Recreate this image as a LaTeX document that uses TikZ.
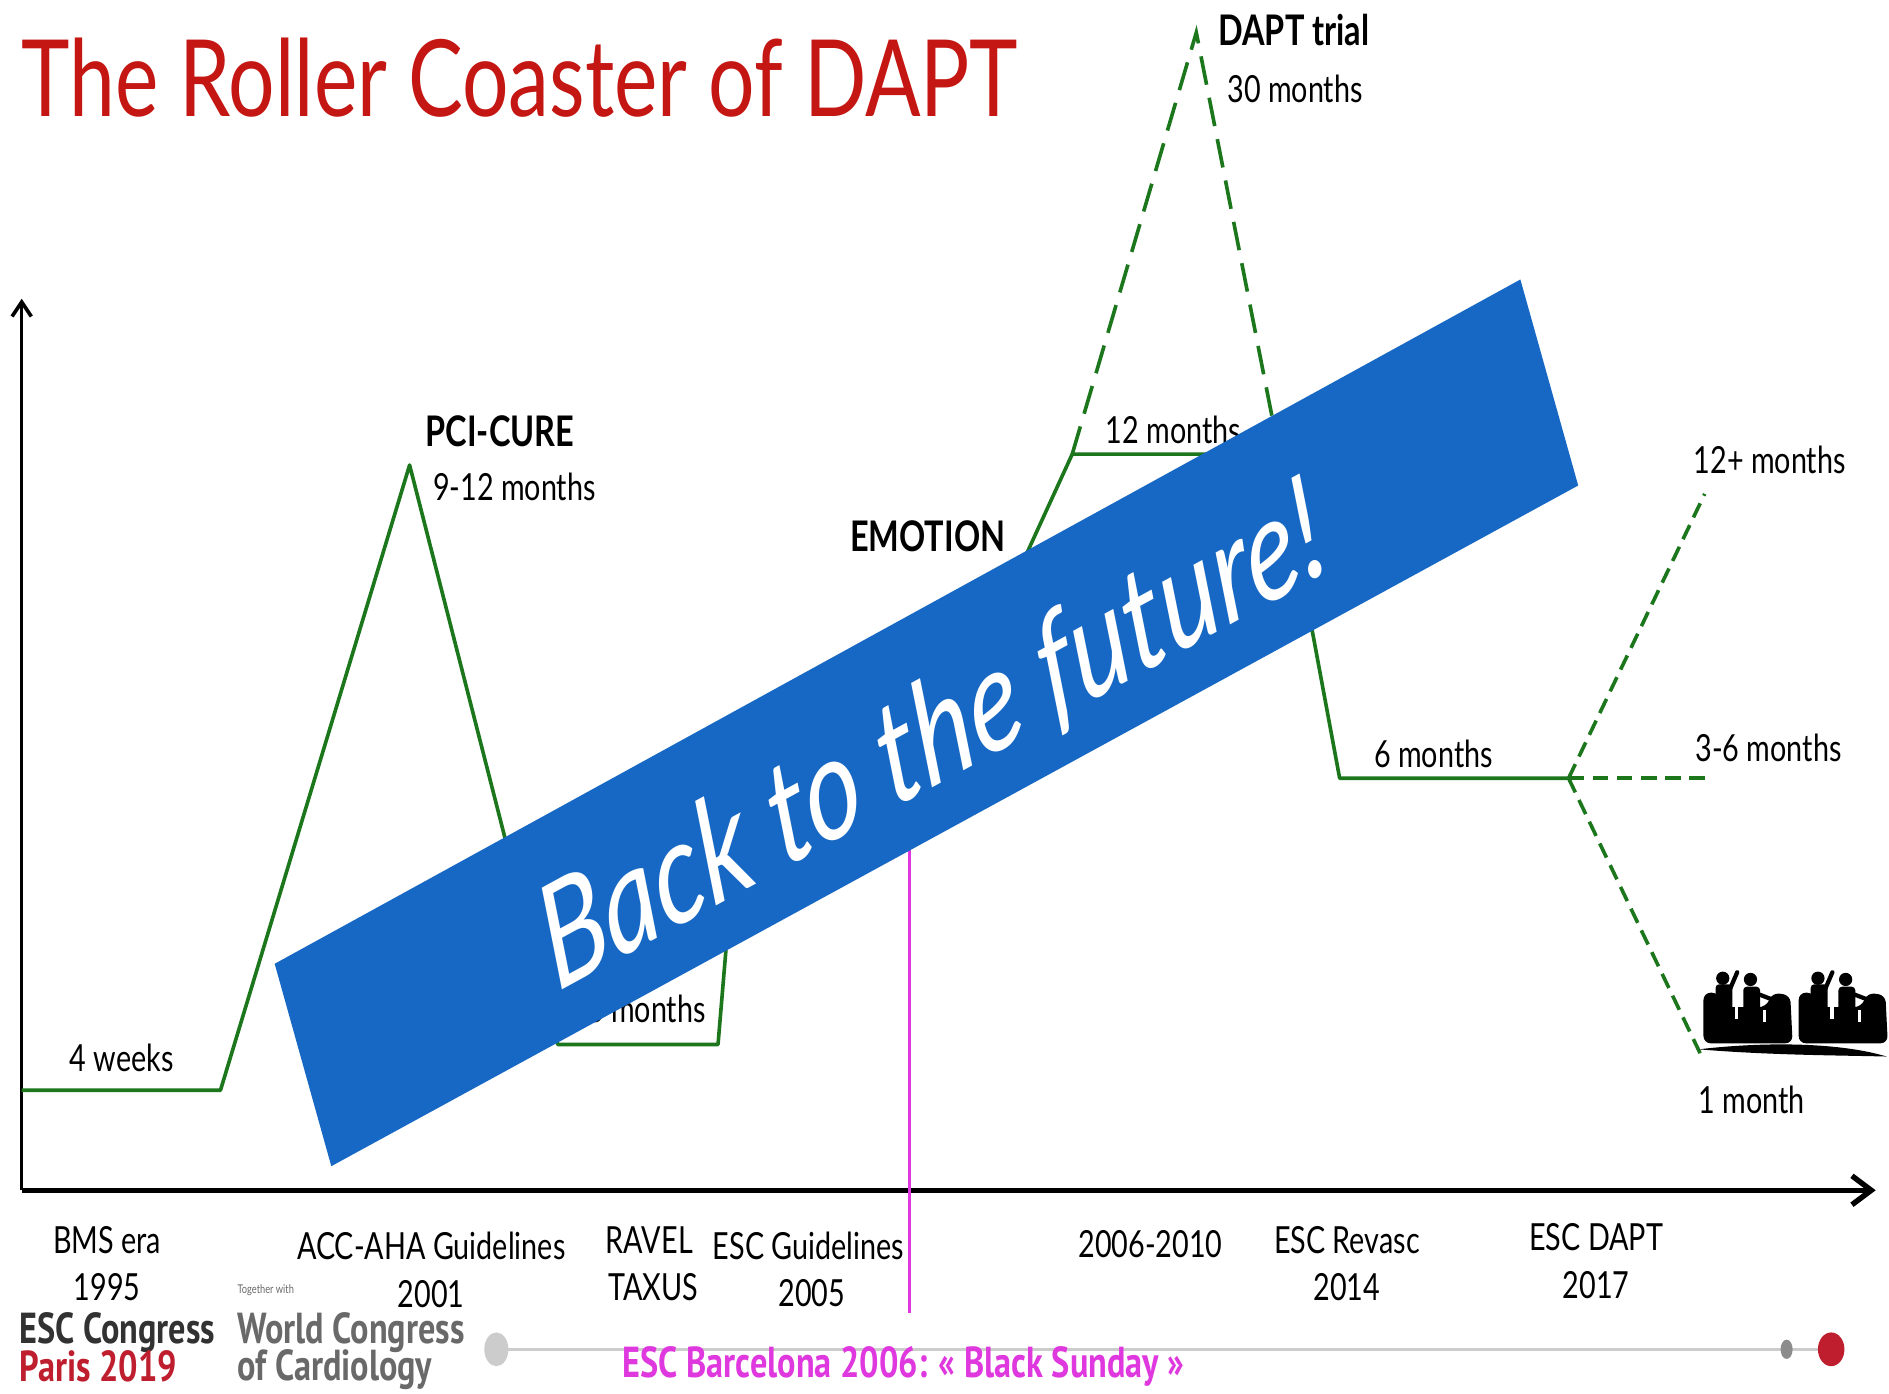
\documentclass[tikz,border=0pt]{standalone}
\usepackage{fontspec}
\setmainfont[FakeStretch=0.77]{Lato}
\newfontfamily\bannerfont{Lato}
\newfontfamily\congressfont[FakeStretch=0.79]{PT Sans}
\usetikzlibrary{arrows.meta}
\definecolor{coastergreen}{RGB}{28,118,28}
\definecolor{titlered}{RGB}{196,22,18}
\definecolor{bannerblue}{RGB}{22,104,196}
\definecolor{sundaypink}{RGB}{222,56,222}
\definecolor{parisred}{RGB}{190,30,45}
\definecolor{wcgray}{RGB}{105,105,105}
\definecolor{escdark}{RGB}{50,50,50}
\begin{document}
\begin{tikzpicture}[x=1pt,y=-1pt,
  track/.style={draw=coastergreen, line width=3pt, line join=round},
  trialdash/.style={draw=coastergreen, line width=3pt, dash pattern=on 24pt off 11pt},
  futuredash/.style={draw=coastergreen, line width=3pt, dash pattern=on 13pt off 7pt},
  lbl/.style={font=\fontsize{31}{34}\selectfont, text=black, inner sep=0pt},
  boldlbl/.style={font=\bfseries\fontsize{35}{37}\selectfont, text=black, inner sep=0pt},
  footlbl/.style={font=\congressfont\bfseries\fontsize{36}{39}\selectfont, inner sep=0pt, anchor=base west}
]
% canvas
\useasboundingbox (0,0) rectangle (1568,1156.3);
\fill[white] (0,0) rectangle (1568,1156.3);

% title
\node[anchor=base west, inner sep=0pt, text=titlered,
      font=\fontsize{88.5}{96}\selectfont] (title) at (18,97) {The Roller Coaster of DAPT};

% axes
\coordinate (origin) at (18,988);
\coordinate (ytip) at (18,248);
\coordinate (xtip) at (1557,988);
\draw[line width=3pt, -{Straight Barb[length=12pt,width=16pt,line width=3pt]}] (origin) -- (ytip);
\draw[line width=4.5pt, -{Straight Barb[length=16pt,width=24pt,line width=4.5pt]}] (origin) -- (xtip);

% duration track
\coordinate (g0) at (18,905);
\coordinate (g1) at (183,905);
\coordinate (g2) at (340,386);
\coordinate (g3) at (463,867);
\coordinate (g4) at (596,867);
\coordinate (g5) at (610,700);
\coordinate (g6) at (742,700);
\coordinate (g7) at (890,377);
\coordinate (g8) at (1062,377);
\coordinate (g9) at (1112,646);
\coordinate (g10) at (1302,646);
\coordinate (peak) at (993,27);
\coordinate (f12) at (1415,410);
\coordinate (f36) at (1420,646);
\coordinate (f1) at (1413,878);

\draw[track] (g0) -- (g1) -- (g2) -- (g3) -- (g4) -- (g5) -- (g6) -- (g7) -- (g8) -- (g9) -- (g10);
\draw[trialdash] (g7) -- (peak) -- (g8);
\draw[futuredash] (g10) -- (f12);
\draw[futuredash] (g10) -- (f36);
\draw[futuredash] (g10) -- (f1);

% duration labels
\node[lbl] (w4) at (101,878) {4 weeks};
\node[boldlbl] (pcicure) at (415,358) {PCI-CURE};
\node[lbl] (m912) at (427,404) {9-12 months};
\node[lbl, anchor=base east] (m36a) at (586,849) {3-6 months};
\node[boldlbl] (emotion) at (770,445) {EMOTION};
\node[lbl] (m12) at (974,357) {12 months};
\node[boldlbl] (dapt) at (1074,25) {DAPT trial};
\node[lbl] (m30) at (1075,74) {30 months};
\node[lbl] (m12p) at (1469,382) {12+ months};
\node[lbl] (m6) at (1190,626) {6 months};
\node[lbl] (m36b) at (1468,621) {3-6 months};
\node[lbl] (m1) at (1454,913) {1 month};

% Black Sunday marker
\coordinate (bs0) at (755,640);
\coordinate (bs1) at (755,1090);
\draw[sundaypink, line width=3pt] (bs0) -- (bs1);

% banner
\coordinate (bA) at (228,800);
\coordinate (bB) at (1262,232);
\coordinate (bC) at (1310,403);
\coordinate (bD) at (275,968);
\fill[bannerblue] (bA) -- (bB) -- (bC) -- (bD) -- cycle;
\begin{scope}[shift={(774,614)}]
  \node[text=white, inner sep=0pt, xscale=0.74, rotate=22,
        font=\bannerfont\itshape\fontsize{121}{130}\selectfont] (future) at (0,0) {Back to the future!};
\end{scope}

% timeline labels
\node[lbl] (bms) at (89,1029) {BMS era};
\node[lbl] (y1995) at (89,1068) {1995};
\node[lbl] (acc) at (358,1034) {ACC-AHA Guidelines};
\node[lbl] (y2001) at (358,1074) {2001};
\node[lbl] (ravel) at (539,1029) {RAVEL};
\node[lbl] (taxus) at (542,1068) {TAXUS};
\node[lbl] (escg) at (671,1034) {ESC Guidelines};
\node[lbl] (y2005) at (674,1073) {2005};
\node[lbl] (y0610) at (955,1033) {2006-2010};
\node[lbl] (revasc) at (1118,1029) {ESC Revasc};
\node[lbl] (y2014) at (1118,1068) {2014};
\node[lbl] (escdapt) at (1325,1027) {ESC DAPT};
\node[lbl] (y2017) at (1325,1067) {2017};

% roller coaster cars
\foreach \cx in {1414,1493}{
  \begin{scope}[shift={(\cx,866)}]
    \fill[black, rounded corners=6pt] (0,0) -- (0,-42) -- (13,-42) -- (14,-30) -- (52,-30)
          -- (57,-42) -- (72,-40) -- (74,0) -- cycle;
    \fill[black] (16,-54) circle (5.5);
    \fill[black] (39,-53) circle (5.5);
    \fill[black, rounded corners=3pt] (10,-24) rectangle (24,-49);
    \fill[black, rounded corners=3pt] (33,-24) rectangle (47,-47);
    \draw[black, line width=3.5pt, line cap=round] (22,-45) -- (28,-59);
    \draw[black, line width=3.5pt, line cap=round] (45,-41) -- (58,-36);
    \fill[white] (26,-20) rectangle (29,-32);
    \fill[white] (49,-18) rectangle (52,-28);
  \end{scope}
}
\coordinate (rail0) at (1410,871);
\coordinate (rail1) at (1566,877);
\fill[black] (rail0) .. controls (1470,864) and (1530,866) .. (rail1)
             .. controls (1530,876) and (1470,876) .. (rail0) -- cycle;

% congress footer
\coordinate (tl0) at (412,1120);
\coordinate (tl1) at (1483,1120);
\coordinate (tl2) at (1520,1120);
\draw[black!20, line width=2pt] (tl0) -- (tl2);
\fill[black!20] (tl0) ellipse [x radius=10, y radius=14];
\fill[black!45] (tl1) ellipse [x radius=5, y radius=8];
\fill[parisred] (tl2) ellipse [x radius=11, y radius=14];

\node[footlbl, text=escdark] (escc) at (16,1115) {ESC Congress};
\node[footlbl, text=parisred] (paris) at (16,1147) {Paris 2019};
\node[anchor=west, inner sep=0pt, text=wcgray, font=\fontsize{10}{11}\selectfont] (together) at (197,1071) {Together with};
\node[footlbl, text=wcgray] (wcc) at (197,1115) {World Congress};
\node[footlbl, text=wcgray] (cardio) at (197,1146) {of Cardiology};
\node[footlbl, anchor=base, text=sundaypink] (sunday) at (750,1143) {ESC Barcelona 2006: « Black Sunday »};
\end{tikzpicture}
\end{document}
